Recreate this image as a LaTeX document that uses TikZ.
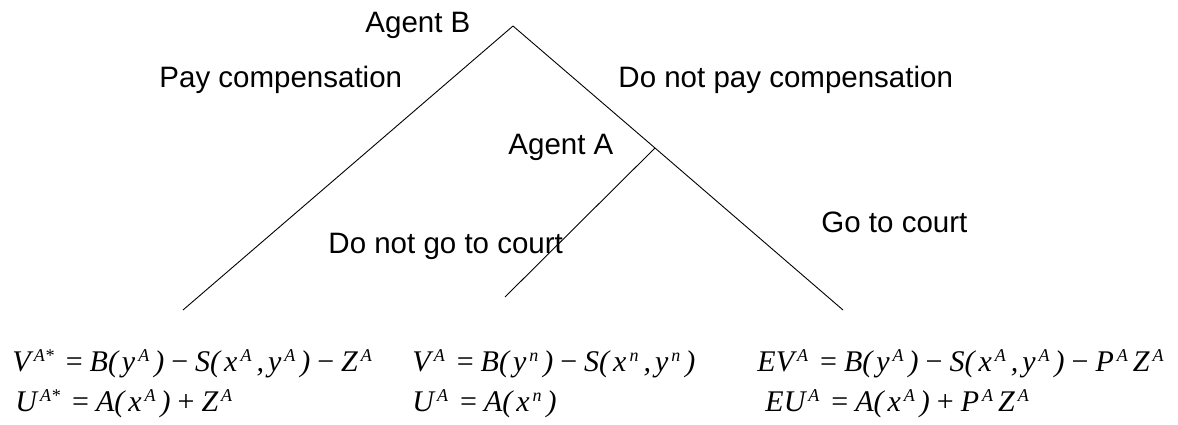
\documentclass[tikz,border=0pt]{standalone}
\usepackage{fontspec}
\usepackage{tikz}
\usetikzlibrary{positioning,calc}
\newfontfamily\labelfont{Liberation Sans}
\newfontfamily\eqfont{Liberation Serif}
% superscript and operator helpers for the payoffs
\newcommand{\up}[1]{\hspace{3pt}\raisebox{10pt}{\fontsize{18}{18}\selectfont\itshape #1}\hspace{5pt}}
\newcommand{\op}[1]{\hspace{7pt}{\upshape #1}\hspace{7pt}}
\newcommand{\lp}{(\hspace{4pt}}
\newcommand{\rp}{)}

\begin{document}
\begin{tikzpicture}[x=1pt, y=-1pt, line width=0.9pt,
    tree label/.style={inner sep=0pt, anchor=base west, font=\labelfont\fontsize{29.5}{30}\selectfont},
    payoff/.style={inner sep=0pt, anchor=base west, font=\eqfont\itshape\fontsize{30}{32}\selectfont}]
  \useasboundingbox (0,0) rectangle (1178,425);

  % decision nodes and leaves
  \coordinate (agentB) at (513, 26);
  \coordinate (agentA) at (655, 148);
  \coordinate (leafPay) at (183, 310);
  \coordinate (leafStay) at (505, 297);
  \coordinate (leafCourt) at (843, 310);

  % branches
  \draw (agentB) -- (leafPay);
  \draw (agentB) -- (agentA) -- (leafCourt);
  \draw (agentA) -- (leafStay);

  % agents
  \node[tree label] (labB) at (365, 33) {Agent B};
  \node[tree label] (labA) at (508, 155) {Agent A};

  % moves
  \node[tree label] (pay) at (159, 88) {Pay compensation};
  \node[tree label] (nopay) at (618, 88) {Do not pay compensation};
  \node[tree label] (stay) at (328, 253) {Do not go to court};
  \node[tree label] (court) at (821, 232) {Go to court};

  % payoffs
  \node[payoff] (payV) at (12, 371)
    {V\up{A*}\op{=}B\lp y\up{A}\rp\op{−}S\lp x\up{A},\hspace{4pt}y\up{A}\rp\op{−}Z\up{A}};
  \node[payoff] (payU) at (15, 411)
    {U\up{A*}\op{=}A\lp x\up{A}\rp\op{+}Z\up{A}};
  \node[payoff] (stayV) at (412, 371)
    {V\up{A}\op{=}B\lp y\up{n}\rp\op{−}S\lp x\up{n},\hspace{4pt}y\up{n}\rp};
  \node[payoff] (stayU) at (412, 411)
    {U\up{A}\op{=}A\lp x\up{n}\rp};
  \node[payoff] (courtV) at (757, 371)
    {EV\up{A}\op{=}B\lp y\up{A}\rp\op{−}S\lp x\up{A},\hspace{4pt}y\up{A}\rp\op{−}P\up{A}Z\up{A}};
  \node[payoff] (courtU) at (765, 411)
    {EU\up{A}\op{=}A\lp x\up{A}\rp\op{+}P\up{A}Z\up{A}};
\end{tikzpicture}
\end{document}
